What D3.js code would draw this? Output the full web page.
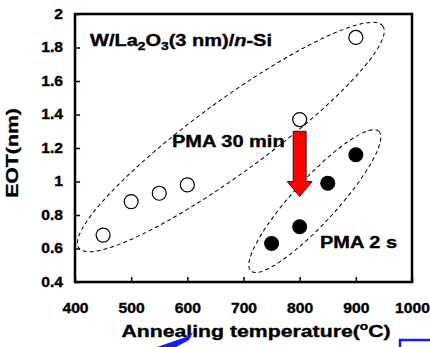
<!DOCTYPE html>
<html lang="en">
<head>
  <meta charset="UTF-8">
  <title>EOT vs annealing temperature</title>
  <script src="https://d3js.org/d3.v7.min.js"></script>
  <style>
    body { margin: 0; background: #fff; }
    text { font-family: "Liberation Sans", Arial, sans-serif; font-weight: bold; fill: #000; stroke: #000; stroke-width: 0.35; }
  </style>
</head>
<body>
  <div id="chart"></div>

  <script>
    // data
    const temps30 = [450, 500, 550, 600, 800, 900];
    const eot30 = [0.68, 0.88, 0.93, 0.98, 1.37, 1.86];
    const temps2 = [750, 800, 850, 900];
    const eot2 = [0.63, 0.73, 0.99, 1.16];
    const xTicks = [400, 500, 600, 700, 800, 900, 1000];
    const yTicks = [0.4, 0.6, 0.8, 1, 1.2, 1.4, 1.6, 1.8, 2];

    // dashed group outlines: major axis ends in data units
    const group30 = [[407, 0.603], [948, 1.928]];
    const group2 = [[713, 0.466], [941, 1.30]];
    // red arrow, from the 30 min point down to the 2 s group
    const arrowTemp = 800, arrowFrom = 1.30, arrowTo = 0.91;

    const W = 430, H = 347;
    const margin = { top: 14, right: 18, bottom: 65, left: 75 };
    const SX = 1.25;  // glyphs in the picture are stretched sideways
    const TSX = 1.12; // tick labels a bit less

    const svg = d3.select("#chart").append("svg")
      .attr("width", W).attr("height", H);

    const x = d3.scaleLinear().domain([400, 1000]).range([margin.left, W - margin.right]);
    const y = d3.scaleLinear().domain([0.4, 2]).range([H - margin.bottom, margin.top]);

    // stretched text helper
    function label(str, px, py, size, anchor) {
      return svg.append("text")
        .attr("transform", "translate(" + px + "," + py + ") scale(" + SX + ",1)")
        .attr("text-anchor", anchor || "start")
        .style("font-size", size + "px")
        .text(str);
    }

    // axes, ticks inside
    const xAxis = svg.append("g")
      .attr("transform", "translate(0," + y.range()[0] + ")")
      .call(d3.axisBottom(x).tickValues(xTicks).tickSize(-5).tickPadding(21)
        .tickFormat(d3.format("d")));
    xAxis.selectAll("text")
      .attr("transform", "scale(" + TSX + ",1)")
      .style("font-size", "14px");

    const yAxis = svg.append("g")
      .attr("transform", "translate(" + x.range()[0] + ",0)")
      .call(d3.axisLeft(y).tickValues(yTicks).tickSize(-5).tickPadding(10)
        .tickFormat(d => String(+d.toFixed(1))));
    yAxis.selectAll("text")
      .attr("x", -12 / TSX)
      .attr("transform", "scale(" + TSX + ",1)")
      .style("font-size", "14px");

    svg.selectAll(".domain").remove();
    svg.selectAll(".tick line").attr("stroke", "#000").attr("stroke-width", 1.5);

    // frame
    svg.append("rect")
      .attr("x", x.range()[0]).attr("y", y.range()[1])
      .attr("width", x.range()[1] - x.range()[0])
      .attr("height", y.range()[0] - y.range()[1])
      .attr("fill", "none").attr("stroke", "#000").attr("stroke-width", 2.5);

    // dashed ellipses
    function ellipse(ends, halfWidth) {
      const x1 = x(ends[0][0]), y1 = y(ends[0][1]);
      const x2 = x(ends[1][0]), y2 = y(ends[1][1]);
      const cx = (x1 + x2) / 2, cy = (y1 + y2) / 2;
      const rx = Math.hypot(x2 - x1, y2 - y1) / 2;
      const ang = Math.atan2(y2 - y1, x2 - x1) * 180 / Math.PI;
      svg.append("ellipse")
        .attr("cx", 0).attr("cy", 0).attr("rx", rx).attr("ry", halfWidth)
        .attr("transform", "translate(" + cx + "," + cy + ") rotate(" + ang + ")")
        .attr("fill", "none").attr("stroke", "#000")
        .attr("stroke-width", 1).attr("stroke-dasharray", "4,3");
    }
    ellipse(group30, 36);
    ellipse(group2, 22);

    // points
    svg.selectAll(".open")
      .data(temps30.map((t, i) => [t, eot30[i]]))
      .enter().append("circle")
      .attr("cx", d => x(d[0])).attr("cy", d => y(d[1])).attr("r", 7)
      .attr("fill", "#fff").attr("stroke", "#000").attr("stroke-width", 1.2);

    svg.selectAll(".filled")
      .data(temps2.map((t, i) => [t, eot2[i]]))
      .enter().append("circle")
      .attr("cx", d => x(d[0])).attr("cy", d => y(d[1])).attr("r", 7.5)
      .attr("fill", "#000");

    // red arrow
    const ax = x(arrowTemp), aTop = y(arrowFrom), aTip = y(arrowTo);
    const aBase = aTip - 15;
    svg.append("path")
      .attr("d", d3.line()([
        [ax - 6.5, aTop], [ax + 6.5, aTop], [ax + 6.5, aBase], [ax + 12.5, aBase],
        [ax, aTip], [ax - 12.5, aBase], [ax - 6.5, aBase]
      ]) + "Z")
      .attr("fill", "#ff0000").attr("stroke", "#000").attr("stroke-width", 0.8);

    // annotations
    const title = svg.append("text")
      .attr("transform", "translate(90,46) scale(" + SX + ",1)")
      .style("font-size", "16px");
    title.append("tspan").text("W/La");
    title.append("tspan").attr("dy", 4).style("font-size", "11px").text("2");
    title.append("tspan").attr("dy", -4).text("O");
    title.append("tspan").attr("dy", 4).style("font-size", "11px").text("3");
    title.append("tspan").attr("dy", -4).text("(3 nm)/");
    title.append("tspan").style("font-style", "italic").text("n");
    title.append("tspan").text("-Si");

    label("PMA 30 min", 172, 147, 16);
    label("PMA 2 s", 320, 248, 16);

    // axis titles
    const xt = svg.append("text")
      .attr("transform", "translate(256,337) scale(" + SX + ",1)")
      .attr("text-anchor", "middle")
      .style("font-size", "17px");
    xt.append("tspan").text("Annealing temperature(");
    xt.append("tspan").attr("dy", -7).style("font-size", "11px").text("o");
    xt.append("tspan").attr("dy", 7).text("C)");

    svg.append("text")
      .attr("transform", "translate(18,153) rotate(-90) scale(" + SX + ",1)")
      .attr("text-anchor", "middle")
      .style("font-size", "17px")
      .text("EOT(nm)");

    // stray blue marks at the bottom of the original picture
    svg.append("path")
      .attr("d", "M157,347 L186,337 L193,332 L189,340 L176,347 Z")
      .attr("fill", "#1a1aff");
    svg.append("path")
      .attr("d", "M400,347 L400,340 L430,340")
      .attr("fill", "none").attr("stroke", "#1a1aff").attr("stroke-width", 2.5);
  </script>
</body>
</html>
